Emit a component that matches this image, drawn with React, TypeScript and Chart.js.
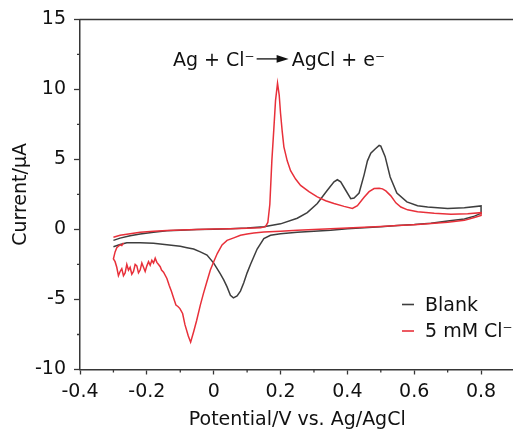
import React, { useEffect, useRef } from "react";
import { Chart, registerables } from "chart.js";

Chart.register(...registerables);

// ---- data ----
const blankPotential = [
  -0.30, -0.28, -0.25, -0.22, -0.18, -0.14, -0.10, -0.05, 0.00, 0.05,
  0.10, 0.15, 0.20, 0.25, 0.28, 0.31, 0.34, 0.36, 0.37, 0.38,
  0.395, 0.41, 0.42, 0.435, 0.45, 0.46, 0.47, 0.483, 0.495, 0.50,
  0.513, 0.528, 0.548, 0.578, 0.61, 0.64, 0.70, 0.75, 0.80,
  0.80, 0.78, 0.75, 0.70, 0.65, 0.60, 0.55, 0.50, 0.45, 0.40,
  0.35, 0.30, 0.25, 0.20, 0.17, 0.15, 0.13, 0.12, 0.11, 0.10,
  0.09, 0.08, 0.07, 0.059, 0.05, 0.04, 0.03, 0.019, 0.00, -0.02,
  -0.04, -0.06, -0.08, -0.10, -0.14, -0.18, -0.22, -0.26, -0.28, -0.30,
];
const blankCurrent = [
  -0.78, -0.62, -0.45, -0.32, -0.20, -0.10, -0.05, 0.00, 0.02, 0.05,
  0.10, 0.20, 0.40, 0.80, 1.20, 1.85, 2.80, 3.40, 3.55, 3.40,
  2.80, 2.20, 2.25, 2.60, 3.90, 4.90, 5.45, 5.75, 6.00, 5.95,
  5.20, 3.75, 2.60, 1.97, 1.70, 1.60, 1.50, 1.55, 1.68,
  1.15, 0.95, 0.75, 0.60, 0.45, 0.35, 0.28, 0.20, 0.12, 0.05,
  -0.05, -0.12, -0.20, -0.30, -0.42, -0.65, -1.40, -1.95, -2.50, -3.10,
  -3.80, -4.40, -4.75, -4.88, -4.70, -4.10, -3.60, -3.14, -2.40, -1.83,
  -1.60, -1.40, -1.30, -1.20, -1.10, -0.98, -0.95, -0.95, -1.08, -1.24,
];

const chloridePotential = [
  -0.30, -0.28, -0.25, -0.22, -0.18, -0.14, -0.10, -0.05, 0.00, 0.05,
  0.10, 0.14, 0.155, 0.162, 0.168, 0.174, 0.18, 0.185, 0.191, 0.196,
  0.20, 0.205, 0.21, 0.22, 0.23, 0.245, 0.26, 0.285, 0.31, 0.335,
  0.36, 0.39, 0.415, 0.43, 0.45, 0.465, 0.48, 0.495, 0.505, 0.515,
  0.53, 0.545, 0.56, 0.58, 0.61, 0.66, 0.71, 0.76, 0.80,
  0.80, 0.78, 0.75, 0.70, 0.65, 0.60, 0.55, 0.50, 0.45, 0.40,
  0.35, 0.30, 0.25, 0.20, 0.15, 0.12, 0.10, 0.08, 0.06, 0.04,
  0.025, 0.011, 0.00, -0.01, -0.02, -0.031, -0.04, -0.051, -0.06, -0.069,
  -0.076, -0.086, -0.093, -0.101, -0.107, -0.113, -0.12, -0.126, -0.133, -0.14,
  -0.15, -0.156, -0.16, -0.165, -0.17, -0.175, -0.18, -0.185, -0.19, -0.195,
  -0.20, -0.205, -0.21, -0.215, -0.22, -0.225, -0.23, -0.235, -0.24, -0.245,
  -0.25, -0.255, -0.26, -0.265, -0.27, -0.275, -0.28, -0.285, -0.29, -0.295,
  -0.30, -0.295, -0.29, -0.285, -0.28, -0.275, -0.27,
];
const chlorideCurrent = [
  -0.55, -0.42, -0.30, -0.20, -0.12, -0.07, -0.03, 0.00, 0.03, 0.05,
  0.08, 0.12, 0.20, 0.50, 1.80, 4.90, 7.20, 9.20, 10.45, 9.60,
  8.30, 7.00, 5.90, 4.90, 4.20, 3.60, 3.15, 2.70, 2.33, 2.05,
  1.85, 1.65, 1.50, 1.70, 2.30, 2.70, 2.92, 2.95, 2.90, 2.75,
  2.40, 1.90, 1.60, 1.40, 1.26, 1.15, 1.09, 1.12, 1.20,
  1.00, 0.85, 0.65, 0.52, 0.42, 0.34, 0.28, 0.22, 0.16, 0.10,
  0.05, 0.00, -0.05, -0.12, -0.18, -0.25, -0.32, -0.41, -0.60, -0.78,
  -1.10, -1.70, -2.30, -2.90, -3.70, -4.60, -5.40, -6.50, -7.30, -8.05,
  -7.60, -6.80, -6.00, -5.65, -5.50, -5.40, -4.90, -4.45, -4.00, -3.50,
  -3.05, -2.90, -2.66, -2.50, -2.35, -2.05, -2.40, -2.20, -2.55, -2.30,
  -2.60, -3.00, -2.70, -2.40, -2.90, -3.10, -2.60, -2.50, -3.00, -3.20,
  -2.70, -2.90, -2.50, -3.10, -3.30, -2.80, -3.00, -3.30, -2.70, -2.30,
  -2.10, -1.60, -1.30, -1.20, -1.10, -1.15, -0.95,
];

const seriesLabels = ["Blank", "5 mM Cl\u207B"];
const xMajorTicks = [-0.4, -0.2, 0, 0.2, 0.4, 0.6, 0.8];
const xMinorTicks = [-0.3, -0.1, 0.1, 0.3, 0.5, 0.7, 0.9];
const yMajorTicks = [-10, -5, 0, 5, 10, 15];
const yMinorTicks = [-7.5, -2.5, 2.5, 7.5, 12.5];
const xTitle = "Potential/V vs. Ag/AgCl";
const yTitle = "Current/\u03BCA";
const reactionLeft = "Ag + Cl\u207B";
const reactionRight = "AgCl + e\u207B";

// ---- styles ----
const FONT = '"DejaVu Sans", "Liberation Sans", sans-serif';
const AXIS_COLOR = "#363636";
const TEXT_COLOR = "#111111";
const BLANK_COLOR = "#3e3e3e";
const CL_COLOR = "#e8303a";
const CANVAS_W = 530;
const CANVAS_H = 438;

const decorPlugin = {
  id: "decor",
  afterDraw(chart: any) {
    const { ctx, chartArea: ca, scales } = chart;
    const x = scales.x;
    const y = scales.y;
    ctx.save();
    // top frame line
    ctx.strokeStyle = AXIS_COLOR;
    ctx.lineWidth = 1.5;
    ctx.beginPath();
    ctx.moveTo(ca.left - 0.75, ca.top);
    ctx.lineTo(ca.right, ca.top);
    ctx.stroke();
    // minor ticks
    ctx.lineWidth = 1.3;
    ctx.beginPath();
    xMinorTicks.forEach((v) => {
      const px = x.getPixelForValue(v);
      ctx.moveTo(px, ca.bottom);
      ctx.lineTo(px, ca.bottom + 3);
    });
    yMinorTicks.forEach((v) => {
      const py = y.getPixelForValue(v);
      ctx.moveTo(ca.left - 3, py);
      ctx.lineTo(ca.left, py);
    });
    ctx.stroke();

    // reaction annotation
    ctx.fillStyle = TEXT_COLOR;
    ctx.font = `19px ${FONT}`;
    ctx.textBaseline = "alphabetic";
    ctx.textAlign = "left";
    const baseY = ca.top + 46.5;
    const startX = ca.left + 93;
    ctx.fillText(reactionLeft, startX, baseY);
    const w1 = ctx.measureText(reactionLeft).width;
    const arrowStart = startX + w1 + 2;
    const arrowEnd = arrowStart + 32;
    const arrowY = baseY - 7;
    ctx.strokeStyle = TEXT_COLOR;
    ctx.lineWidth = 1.3;
    ctx.beginPath();
    ctx.moveTo(arrowStart, arrowY);
    ctx.lineTo(arrowEnd - 10, arrowY);
    ctx.stroke();
    ctx.beginPath();
    ctx.moveTo(arrowEnd, arrowY);
    ctx.lineTo(arrowEnd - 12, arrowY - 3.8);
    ctx.lineTo(arrowEnd - 12, arrowY + 3.8);
    ctx.closePath();
    ctx.fill();
    ctx.fillText(reactionRight, arrowEnd + 3, baseY);

    // legend
    const ds = chart.data.datasets;
    const legendRows = [
      { label: ds[1].label, color: ds[1].borderColor, yText: 310.5, yLine: 304.5 },
      { label: ds[0].label, color: ds[0].borderColor, yText: 336.5, yLine: 331 },
    ];
    legendRows.forEach((r) => {
      ctx.strokeStyle = r.color;
      ctx.lineWidth = 1.6;
      ctx.beginPath();
      ctx.moveTo(402, r.yLine);
      ctx.lineTo(414, r.yLine);
      ctx.stroke();
      ctx.fillStyle = TEXT_COLOR;
      ctx.fillText(r.label, 425, r.yText);
    });
    ctx.restore();
  },
};

export default function App() {
  const canvasRef = useRef<HTMLCanvasElement | null>(null);

  useEffect(() => {
    const canvas = canvasRef.current;
    if (!canvas) return;
    const chart = new Chart(canvas, {
      type: "scatter",
      data: {
        datasets: [
          {
            label: seriesLabels[1],
            data: chloridePotential.map((p, i) => ({ x: p, y: chlorideCurrent[i] })),
            showLine: true,
            borderColor: CL_COLOR,
            backgroundColor: CL_COLOR,
            borderWidth: 1.5,
            pointRadius: 0,
            tension: 0,
            order: 0,
          },
          {
            label: seriesLabels[0],
            data: blankPotential.map((p, i) => ({ x: p, y: blankCurrent[i] })),
            showLine: true,
            borderColor: BLANK_COLOR,
            backgroundColor: BLANK_COLOR,
            borderWidth: 1.5,
            pointRadius: 0,
            tension: 0,
            order: 1,
          },
        ],
      },
      options: {
        responsive: false,
        animation: false,
        events: [],
        layout: { padding: { top: 18.5, right: CANVAS_W - 514.5, left: 0, bottom: 0 } },
        plugins: { legend: { display: false }, tooltip: { enabled: false } },
        scales: {
          x: {
            type: "linear",
            min: -0.4,
            max: 0.9,
            afterFit: (s: any) => {
              s.height = CANVAS_H - 369.5;
            },
            afterBuildTicks: (s: any) => {
              s.ticks = xMajorTicks.map((v) => ({ value: v }));
            },
            border: { color: AXIS_COLOR, width: 1.5 },
            grid: {
              drawOnChartArea: false,
              color: AXIS_COLOR,
              tickLength: 5,
              tickWidth: 1.3,
            },
            ticks: {
              color: TEXT_COLOR,
              font: { family: FONT, size: 19 },
              padding: 6,
              maxRotation: 0,
              callback: (v: any) => String(Number(Number(v).toFixed(2))),
            },
            title: {
              display: true,
              text: xTitle,
              color: TEXT_COLOR,
              font: { family: FONT, size: 19 },
              padding: { top: 0, bottom: 7 },
            },
          },
          y: {
            type: "linear",
            min: -10,
            max: 15,
            afterFit: (s: any) => {
              s.width = 80;
            },
            afterBuildTicks: (s: any) => {
              s.ticks = yMajorTicks.map((v) => ({ value: v }));
            },
            border: { color: AXIS_COLOR, width: 1.5 },
            grid: {
              drawOnChartArea: false,
              color: AXIS_COLOR,
              tickLength: 6,
              tickWidth: 1.3,
            },
            ticks: {
              color: TEXT_COLOR,
              font: { family: FONT, size: 19 },
              padding: 8,
              callback: (v: any) => String(v),
            },
            title: {
              display: true,
              text: yTitle,
              color: TEXT_COLOR,
              font: { family: FONT, size: 19 },
              padding: { top: 10, bottom: 0 },
            },
          },
        },
      },
      plugins: [decorPlugin],
    });
    return () => chart.destroy();
  }, []);

  return (
    <div
      style={{
        position: "fixed",
        left: 0,
        top: 0,
        width: 513,
        height: 438,
        overflow: "hidden",
        background: "#ffffff",
      }}
    >
      <canvas
        ref={canvasRef}
        width={CANVAS_W}
        height={CANVAS_H}
        style={{ display: "block", width: CANVAS_W, height: CANVAS_H }}
      />
    </div>
  );
}
